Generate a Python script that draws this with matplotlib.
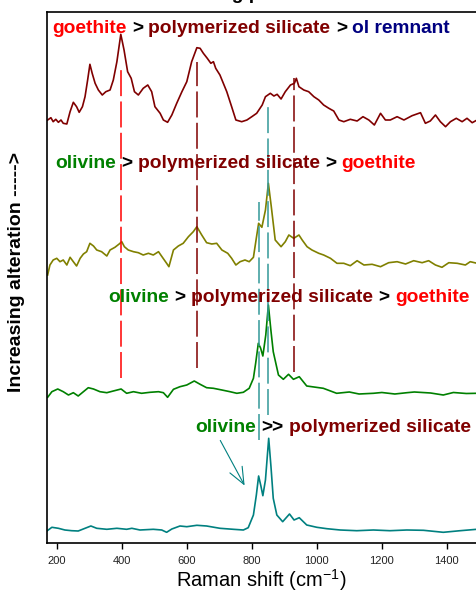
import matplotlib
matplotlib.use('Agg')
import matplotlib.pyplot as plt
from matplotlib.transforms import offset_copy

plt.rcParams['font.family'] = ['Liberation Sans', 'DejaVu Sans']
plt.rcParams['mathtext.default'] = 'regular'

# Spectra (Raman shift in cm-1, intensity in arbitrary units above each baseline)
shift_goe = [172, 182, 189, 197, 205, 213, 220, 231, 241, 251, 261, 269, 279, 287, 295, 302,
             309, 318, 328, 340, 351, 364, 374, 385, 397, 407, 418, 429, 439, 451, 466, 480,
             492, 502, 518, 528, 541, 554, 569, 585, 600, 615, 631, 641, 651, 663, 674, 682,
             689, 702, 723, 738, 751, 769, 785, 800, 815, 832, 842, 857, 868, 878, 890, 903,
             919, 931, 937, 945, 960, 975, 991, 1006, 1021, 1037, 1052, 1068, 1083, 1103, 1124,
             1142, 1160, 1177, 1196, 1211, 1226, 1247, 1268, 1293, 1319, 1334, 1349, 1365, 1380,
             1396, 1411, 1429, 1447, 1462, 1478, 1493]
int_goe = [0, 2.3, -1.7, 0.7, -2.3, 0, -3.3, -4, 8.3, 17.7, 13.3, 7.7, 13.3, 23.3, 40, 55.7,
           46.7, 36.7, 30, 25, 28.3, 30, 40, 58.3, 85.7, 70, 48.3, 41.7, 28.3, 25, 31.7, 35,
           28.3, 13.3, 6.7, 0, -2.3, 5, 16.7, 28.3, 38.3, 58.3, 72.3, 71.7, 66.7, 61.7, 56.7, 58.3,
           51.7, 45, 28.3, 13.3, 0, -1.7, 0, 3.3, 6.7, 15, 23.3, 26.7, 24, 25.7, 21, 28.3,
           35, 36.7, 41.7, 33.3, 30, 28.3, 23.3, 20, 15, 11.7, 9, 0, -1.7, 0.7, -1,
           3.3, 0, -5, 6.7, 0, 0, 3.3, 0, 4.3, 7.3, -3.3, -1, 5, -1.7,
           -6.7, -1.7, 1.7, -1.7, 1.7, -2.7, 0]

shift_olv = [172, 179, 189, 200, 210, 220, 231, 241, 251, 261, 272, 282, 292, 302, 313, 323,
             338, 354, 364, 379, 392, 400, 408, 420, 436, 451, 466, 482, 497, 513, 525, 538,
             545, 559, 574, 589, 605, 620, 631, 646, 661, 677, 692, 708, 726, 738, 751, 764,
             779, 792, 805, 814, 821, 831, 842, 851, 860, 872, 890, 903, 914, 929, 945, 955,
             970, 985, 1006, 1021, 1042, 1062, 1083, 1103, 1124, 1145, 1170, 1196, 1221, 1247,
             1273, 1298, 1324, 1344, 1365, 1385, 1406, 1432, 1457, 1472, 1493]
int_olv = [-12, -2, 3, 4.7, 1.3, 3, -2, 5.7, 1.3, -3, 4.7, 9, 11.3, 19.7, 17, 13,
           11.3, 7, 13, 15.7, 19, 21.3, 16.3, 13, 11.3, 10.3, 8, 9.7, 8, 11.3, 5.7, -0.3,
           -3.7, 13, 17, 19.7, 26.3, 31.3, 36.3, 28, 20.3, 19, 19.7, 13, 9.7, 4.7, -2, 1.3,
           3, 1.3, 5.7, 25, 39.7, 35.7, 53, 79.7, 56.3, 23, 16.3, 21.3, 28, 24.7, 28, 23,
           16.3, 13, 9.7, 8, 4.7, -0.3, -0.3, -2.7, 2.3, -2, -1.3, -3.7, 0.3, 1.3,
           -1, 2.3, 0.3, 2.3, -2, -4.3, 0.3, -0.3, -2, 1.3, -0.3]

shift_grn = [172, 185, 203, 220, 236, 251, 266, 282, 297, 313, 333, 354, 374, 398, 415, 436,
             461, 487, 513, 528, 541, 559, 579, 600, 623, 641, 661, 682, 708, 733, 754, 774,
             792, 805, 812, 820, 827, 834, 843, 851, 859, 866, 882, 897, 913, 928, 946, 969,
             1020, 1061, 1100, 1130, 1174, 1200, 1240, 1277, 1300, 1350, 1389, 1420, 1460, 1492]
int_grn = [-4.3, 1.3, 4, 1.3, -2, 0.3, -3, 1.3, 5.3, 4, 1.3, 0.3, 2, 4, -0.3, 1.3,
           -0.3, 0.7, 1.3, 0.3, -4.3, 3.7, 6.3, 8, 12, 8.7, 5.3, 4.7, 3, 1.3, -0.3, 0.7,
           4.7, 14.7, 30, 49.7, 45, 37, 58, 88, 62, 41.3, 18, 13.7, 18.7, 13.7, 16.3, 7,
           4.7, -0.3, 1, -1, -0.3, 0.5, -1, 0.3, 1, 0, -2, 0.5, -0.5, -0.3]

shift_tea = [171, 185, 205, 225, 246, 266, 287, 305, 323, 354, 385, 415, 431, 456, 497, 523,
             538, 554, 579, 600, 631, 661, 702, 743, 774, 789, 805, 814, 821, 828, 834, 842,
             852, 859, 866, 877, 895, 916, 930, 946, 969, 1000, 1031, 1072, 1123, 1174, 1225,
             1277, 1328, 1389, 1441, 1492]
int_tea = [-0.7, 2.7, 1.7, 0, -0.7, -1, 1.7, 4, 1.7, 0.7, 1.7, 0.7, 1.7, 0, 0.7, 0,
           -2.3, 1, 4, 3.3, 4.7, 4, 1.7, 0.7, 0, 2.3, 15, 35, 54, 44, 34.3, 50,
           91.7, 63.3, 31.7, 15, 8.3, 16, 10, 12.3, 5, 2.7, 1.3, 0, -0.7, 0, -0.7,
           0, -0.3, -2.3, -0.7, 0.7]

offsets = [474, 331, 201, 64]
spectra = [(shift_goe, int_goe, '#800000'),
           (shift_olv, int_olv, '#808000'),
           (shift_grn, int_grn, '#008000'),
           (shift_tea, int_tea, '#008080')]

# marker bands: position, y range, colour
band_pos = [398, 630, 931, 850, 821]
band_ymin = [216, 226, 222, 179, 154]
band_ymax = [526, 532, 516, 491, 392]
band_col = ['#FF0000', '#800000', '#800000', '#339999', '#339999']

labels = [
    (186, 561, [('goethite', '#FF0000'), ('>', 'black'), ('polymerized silicate', '#800000'),
                ('>', 'black'), ('ol remnant', '#000080')]),
    (195, 426, [('olivine', '#008000'), ('>', 'black'), ('polymerized silicate', '#800000'),
                ('>', 'black'), ('goethite', '#FF0000')]),
    (359, 292, [('olivine', '#008000'), ('>', 'black'), ('polymerized silicate', '#800000'),
                ('>', 'black'), ('goethite', '#FF0000')]),
    (625, 162, [('olivine', '#008000'), ('>>', 'black'), ('polymerized silicate', '#800000')]),
]

fig = plt.figure(figsize=(4.77, 5.94), dpi=100)
ax = fig.add_axes([47 / 477, 51 / 594, 433 / 477, 531 / 594])

for (xs, ys, c), off in zip(spectra, offsets):
    ax.plot(xs, [v + off for v in ys], color=c, lw=1.2)

for x, y0, y1, c in zip(band_pos, band_ymin, band_ymax, band_col):
    ax.plot([x, x], [y0, y1], color=c, lw=1.1, linestyle=(0, (17, 3.5)))

# multi-coloured labels, pieces placed by measuring the text before them
renderer = fig.canvas.get_renderer()
font_kw = dict(fontsize=13.8, fontweight='bold')


def text_width(s):
    t = ax.text(0, 0, s, **font_kw)
    w = t.get_window_extent(renderer).width
    t.remove()
    return w


bar_w = text_width('|')
for x, y, parts in labels:
    prefix = ''
    for s, c in parts:
        dx = text_width(prefix + '|') - bar_w if prefix else 0
        tr = offset_copy(ax.transData, fig=fig, x=dx, y=0, units='dots')
        ax.text(x, y, s, color=c, transform=tr, va='baseline', ha='left', **font_kw)
        prefix += s + ' '

ax.annotate('', xy=(782, 106), xytext=(699, 156),
            arrowprops=dict(arrowstyle='->,head_length=1.2,head_width=0.5', color='#008080', lw=0.8))

ax.set_xlim(170, 1502)
ax.set_ylim(51, 582)
ax.set_xticks([200, 400, 600, 800, 1000, 1200, 1400])
ax.set_yticks([])
ax.tick_params(axis='x', direction='out', length=4, width=1, labelsize=8, labelcolor='#222222', pad=5)
for sp in ax.spines.values():
    sp.set_linewidth(1.2)

fig.text(261 / 477, 14 / 594, 'Raman shift (cm$^{-1}$)', ha='center', va='center', fontsize=14.5)
fig.text(17 / 477, 1 - 272 / 594, 'Increasing alteration ----->', rotation=90,
         ha='center', va='center', fontsize=14, fontweight='bold')
# title of the original sits above the crop; only its descenders show
fig.text(235 / 477, 1 + 1 / 594, 'Weathering products', ha='center', va='baseline',
         fontsize=13.8, fontweight='bold')

fig.savefig('out.png', dpi=100)
